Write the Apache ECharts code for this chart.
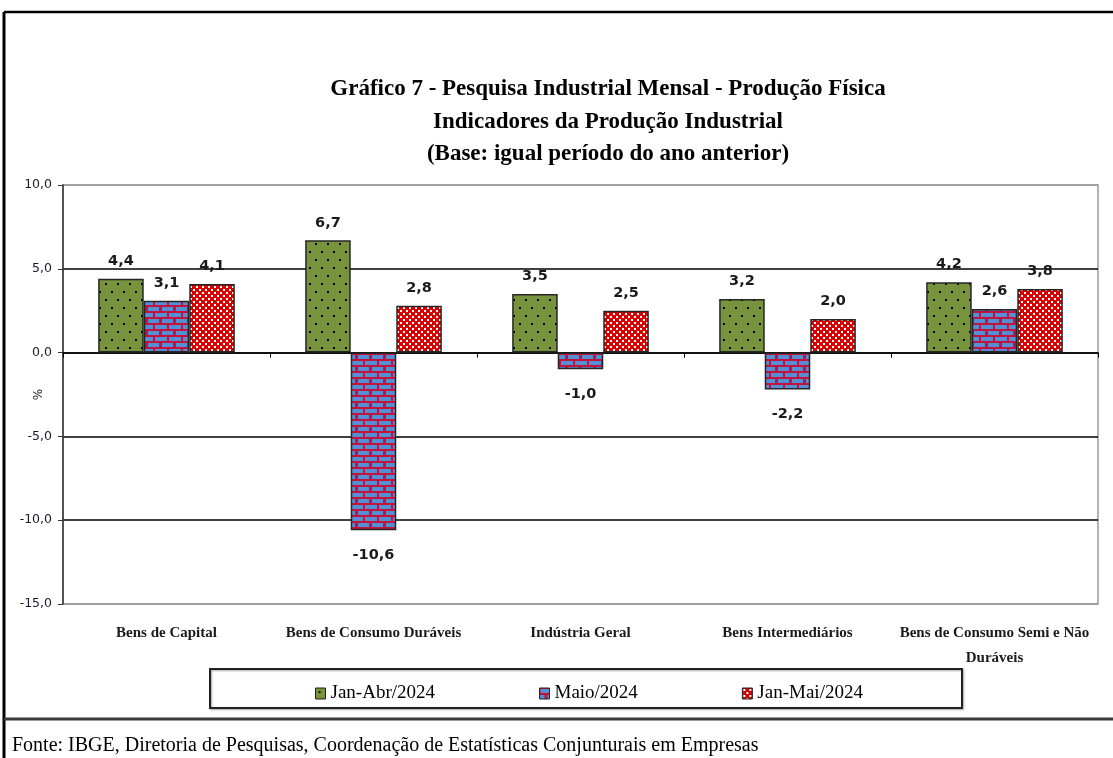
<!DOCTYPE html>
<html><head><meta charset="utf-8">
<script src="https://cdn.jsdelivr.net/npm/echarts@6/dist/echarts.min.js"></script>
<style>html,body{margin:0;padding:0;background:#fff}#c{width:1113px;height:758px}</style>
</head><body><div id="c"></div>
<script>
const categories = ['Bens de Capital', 'Bens de Consumo Duráveis', 'Indústria Geral', 'Bens Intermediários', 'Bens de Consumo Semi e Não\nDuráveis'];
const seriesNames = ['Jan-Abr/2024', 'Maio/2024', 'Jan-Mai/2024'];
const janAbr = [4.4, 6.7, 3.5, 3.2, 4.2];
const maio = [3.1, -10.6, -1.0, -2.2, 2.6];
const janMai = [4.1, 2.8, 2.5, 2.0, 3.8];
const titleLines = ['Gráfico 7 - Pesquisa Industrial Mensal - Produção Física', 'Indicadores da Produção Industrial', '(Base: igual período do ano anterior)'];
const sourceText = 'Fonte: IBGE, Diretoria de Pesquisas, Coordenação de Estatísticas Conjunturais em Empresas';

function makeTile(w, h, draw) {
  const c = document.createElement('canvas');
  c.width = w; c.height = h;
  draw(c.getContext('2d'));
  return c;
}
const greenTile = makeTile(12, 16, g => {
  g.fillStyle = '#77933C'; g.fillRect(0, 0, 12, 16);
  g.fillStyle = '#000'; g.fillRect(3, 3, 2, 2); g.fillRect(9, 11, 2, 2);
});
const redTile = makeTile(6, 6, g => {
  g.fillStyle = '#D80000'; g.fillRect(0, 0, 6, 6);
  g.fillStyle = '#fff'; g.fillRect(1, 1, 2, 2); g.fillRect(4, 4, 2, 2);
});
const brickTile = makeTile(14, 12, g => {
  g.fillStyle = '#C0143C'; g.fillRect(0, 0, 14, 12);
  g.fillStyle = '#558ED5';
  g.fillRect(1, 1, 12, 4);
  g.fillRect(0, 7, 5, 4); g.fillRect(8, 7, 6, 4);
});
const patterns = [
  { image: greenTile, repeat: 'repeat' },
  { image: brickTile, repeat: 'repeat' },
  { image: redTile, repeat: 'repeat' }
];
const seriesData = [janAbr, maio, janMai];

const labelFont = { fontFamily: 'DejaVu Sans', fontWeight: 'bold', fontSize: 14.5, color: '#1a1a1a' };

const chart = echarts.init(document.getElementById('c'), null, { renderer: 'canvas' });
chart.setOption({
  animation: false,
  backgroundColor: '#fff',
  title: {
    text: titleLines.join('\n'),
    left: 603, top: 68, textAlign: 'center',
    textStyle: { fontFamily: 'Liberation Serif', fontWeight: 'bold', fontSize: 23, lineHeight: 32.5, color: '#000' }
  },
  grid: { left: 63, right: 15, top: 185, bottom: 154, show: true, borderColor: '#9a9a9a', borderWidth: 1.5, containLabel: false, outerBoundsMode: 'none' },
  legend: {
    data: seriesNames,
    left: 310, top: 679, itemGap: 104, itemWidth: 10, itemHeight: 11,
    icon: 'rect',
    itemStyle: { borderColor: '#222', borderWidth: 1 },
    textStyle: { fontFamily: 'Liberation Serif', fontSize: 19, color: '#000' }
  },
  xAxis: [
    {
      type: 'category', data: categories, position: 'bottom',
      axisLine: { show: false, onZero: false }, axisTick: { show: false },
      axisLabel: { fontFamily: 'Liberation Serif', fontWeight: 'bold', fontSize: 15, color: '#1a1a1a', margin: 17, lineHeight: 25, interval: 0 }
    },
    {
      type: 'category', data: categories, position: 'bottom',
      axisLine: { show: true, onZero: true, lineStyle: { color: '#000', width: 1.5 } },
      axisTick: { show: true, length: 5, interval: 0, lineStyle: { color: '#000' } },
      axisLabel: { show: false, interval: 0 }
    }
  ],
  yAxis: {
    type: 'value', min: -15, max: 10, interval: 5,
    name: '%', nameLocation: 'middle', nameGap: 18, nameRotate: 90, nameMoveOverlap: false,
    nameTextStyle: { fontFamily: 'DejaVu Sans', fontSize: 12, color: '#1a1a1a' },
    axisLine: { show: true, lineStyle: { color: '#333', width: 1.5 } },
    axisTick: { show: true, length: 5, lineStyle: { color: '#333' } },
    axisLabel: { fontFamily: 'DejaVu Sans', fontSize: 12.5, color: '#1a1a2a', margin: 11, formatter: v => v.toFixed(1).replace('.', ',') },
    splitLine: { show: true, lineStyle: { color: ['#9a9a9a', '#000', '#000', '#000', '#000', '#9a9a9a'], width: 1.5 } }
  },
  series: seriesNames.map((name, i) => ({
    name, type: 'bar', xAxisIndex: 0,
    barGap: '0%', barCategoryGap: '34%',
    itemStyle: { color: patterns[i], borderColor: '#262626', borderWidth: 1.5 },
    data: seriesData[i].map(v => ({
      value: v,
      label: { position: v < 0 ? 'bottom' : 'top', distance: v < 0 ? 17 : 10 }
    })),
    label: { show: true, ...labelFont, formatter: p => p.value.toFixed(1).replace('.', ',') }
  })),
  graphic: [
    { type: 'line', shape: { x1: 4, y1: 12, x2: 4, y2: 758 }, style: { stroke: '#000', lineWidth: 3 } },
    { type: 'line', shape: { x1: 4, y1: 12, x2: 1113, y2: 12 }, style: { stroke: '#000', lineWidth: 2.5 } },
    { type: 'line', shape: { x1: 4, y1: 719, x2: 1113, y2: 719 }, style: { stroke: '#3a3a3a', lineWidth: 3 } },
    { type: 'rect', shape: { x: 210, y: 669, width: 752, height: 39 }, style: { fill: 'none', stroke: '#222', lineWidth: 2, shadowColor: 'rgba(0,0,0,0.35)', shadowBlur: 2, shadowOffsetX: 1, shadowOffsetY: 1 }, z: -1 },
    { type: 'text', left: 12, top: 736, style: { text: sourceText, fontFamily: 'Liberation Serif', fontSize: 20, fill: '#000' } }
  ]
});
</script></body></html>
